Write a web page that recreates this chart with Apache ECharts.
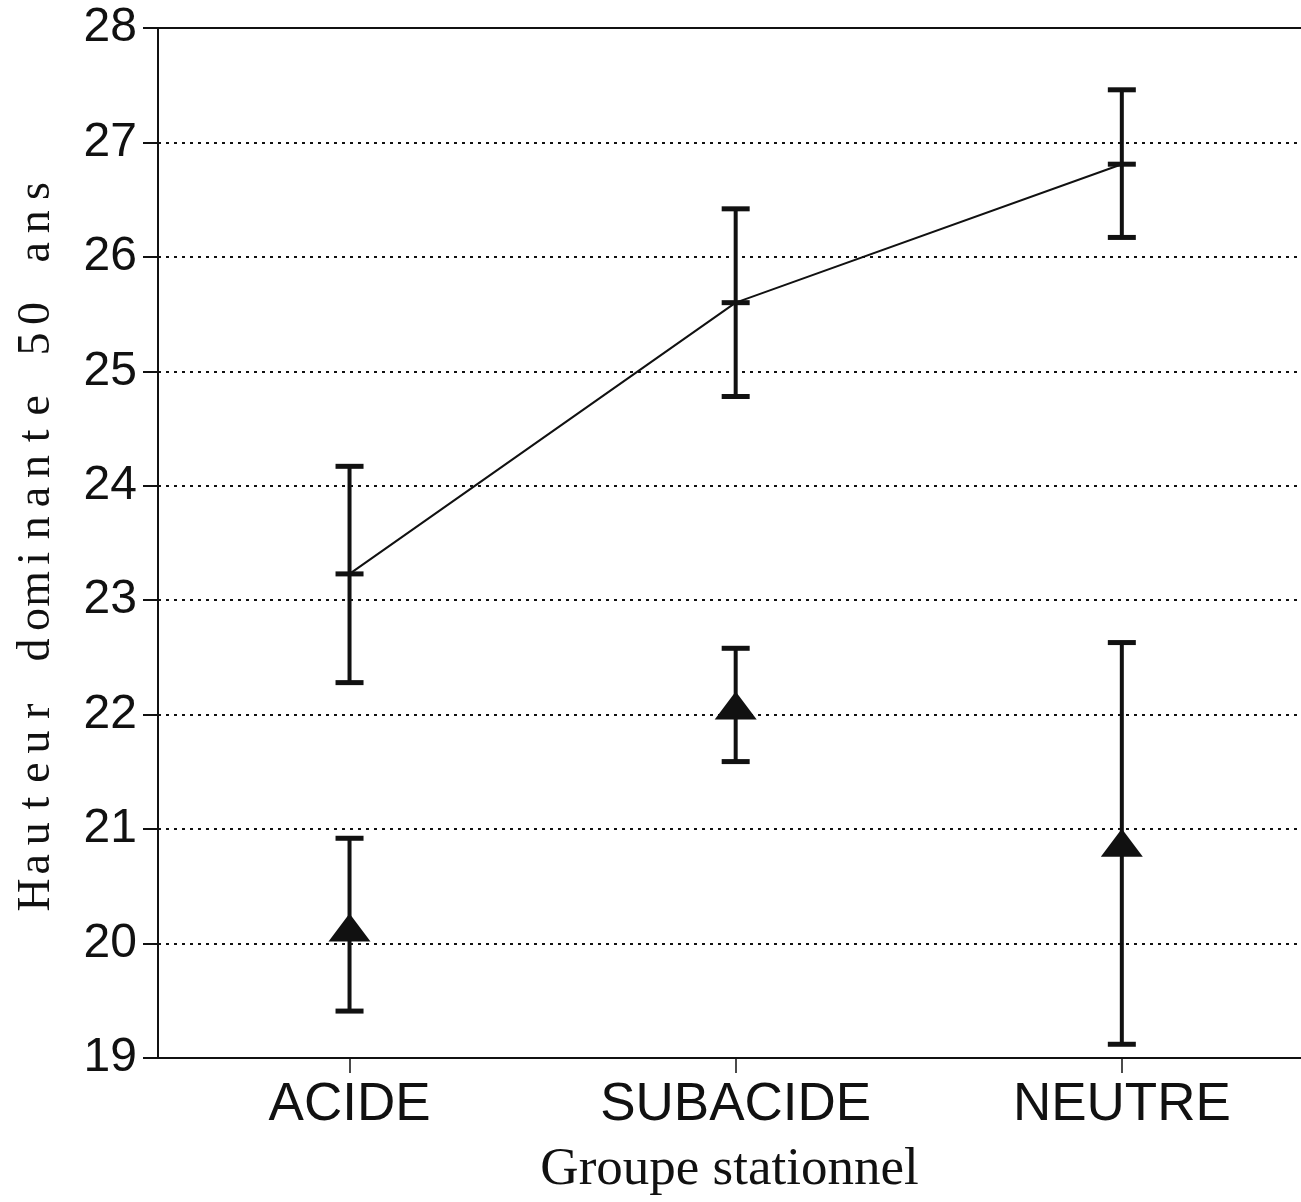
<!DOCTYPE html>
<html>
<head>
<meta charset="utf-8">
<script src="https://cdn.jsdelivr.net/npm/echarts@6/dist/echarts.min.js"></script>
<style>
  html, body { margin: 0; padding: 0; background: #ffffff; width: 1301px; height: 1202px; overflow: hidden; }
  #chart { width: 1301px; height: 1202px; display: block; }
</style>
</head>
<body>
<div id="chart"></div>
<script>
// ---- Data ----
const categories = ['ACIDE', 'SUBACIDE', 'NEUTRE'];

// Upper group (line + horizontal mean marks)
const upperMean = [23.23, 25.60, 26.81];
const upperLow  = [22.28, 24.78, 26.17];
const upperHigh = [24.17, 26.42, 27.46];

// Lower group (triangle marks)
const lowerMean = [20.14, 22.08, 20.88];
const lowerLow  = [19.41, 21.59, 19.12];
const lowerHigh = [20.92, 22.58, 22.63];

const yTicks = [19, 20, 21, 22, 23, 24, 25, 26, 27, 28];

const xTitle = 'Groupe stationnel';
const yTitle = 'Hauteur dominante 50 ans';

// ---- Build series data ----
const catPos = categories.map((c, i) => i + 1);
const upperBars = catPos.map((x, i) => [x, upperLow[i], upperHigh[i], upperMean[i]]);
const lowerBars = catPos.map((x, i) => [x, lowerLow[i], lowerHigh[i]]);
const upperLine = catPos.map((x, i) => [x, upperMean[i]]);
const lowerPts  = catPos.map((x, i) => [x, lowerMean[i]]);

const INK = '#111111';
const X_MIN = 0.504, X_MAX = 3.464;

function errorBarItem(withMean) {
  return function (params, api) {
    const x = api.value(0);
    const pLo = api.coord([x, api.value(1)]);
    const pHi = api.coord([x, api.value(2)]);
    const hw = 14;
    const children = [
      { type: 'line', shape: { x1: pLo[0], y1: pLo[1], x2: pHi[0], y2: pHi[1] },
        style: { stroke: INK, lineWidth: 4 } },
      { type: 'line', shape: { x1: pLo[0] - hw, y1: pLo[1], x2: pLo[0] + hw, y2: pLo[1] },
        style: { stroke: INK, lineWidth: 5 } },
      { type: 'line', shape: { x1: pHi[0] - hw, y1: pHi[1], x2: pHi[0] + hw, y2: pHi[1] },
        style: { stroke: INK, lineWidth: 5 } }
    ];
    if (withMean) {
      const pM = api.coord([x, api.value(3)]);
      children.push({ type: 'line', shape: { x1: pM[0] - hw, y1: pM[1], x2: pM[0] + hw, y2: pM[1] },
        style: { stroke: INK, lineWidth: 5 } });
    }
    return { type: 'group', children: children };
  };
}

// Y title as evenly spaced characters (typewriter-like spacing)
const yTitleRich = yTitle.split('').map(ch => '{c|' + ch + '}').join('');

const chart = echarts.init(document.getElementById('chart'), null, { renderer: 'canvas', width: 1301, height: 1202 });

const option = {
  backgroundColor: '#ffffff',
  animation: false,
  grid: { left: 158, right: 0, top: 28, height: 1038, show: false },
  xAxis: [
    {
      type: 'value',
      min: X_MIN,
      max: X_MAX,
      name: xTitle,
      nameLocation: 'middle',
      nameGap: 86,
      nameTextStyle: { fontFamily: 'Liberation Serif', fontSize: 53, color: INK },
      axisLine: { show: true, onZero: false, lineStyle: { color: INK, width: 2 } },
      axisTick: { show: true, customValues: catPos, length: 15, lineStyle: { color: INK, width: 1.5 } },
      axisLabel: {
        customValues: catPos,
        formatter: v => categories[Math.round(v) - 1] || '',
        fontFamily: 'Liberation Sans', fontSize: 53, color: INK, margin: 21
      },
      splitLine: { show: false }
    },
    {
      type: 'value',
      position: 'top',
      min: X_MIN,
      max: X_MAX,
      axisLine: { show: true, onZero: false, lineStyle: { color: INK, width: 2 } },
      axisTick: { show: false },
      axisLabel: { show: false },
      splitLine: { show: false }
    }
  ],
  yAxis: {
    type: 'value',
    min: yTicks[0],
    max: yTicks[yTicks.length - 1],
    interval: 1,
    name: yTitleRich,
    nameLocation: 'middle',
    nameRotate: 90,
    nameGap: 98,
    nameTextStyle: {
      rich: {
        c: { fontFamily: 'Liberation Serif', fontSize: 46, color: INK, width: 30.6, align: 'center', lineHeight: 46 }
      }
    },
    axisLine: { show: true, lineStyle: { color: INK, width: 2 } },
    axisTick: { show: true, length: 15, lineStyle: { color: INK, width: 2 } },
    axisLabel: { fontFamily: 'Liberation Sans', fontSize: 48, color: INK, margin: 21 },
    splitLine: { show: true, lineStyle: { color: INK, width: 2, type: [3, 5] } }
  },
  series: [
    {
      name: 'upper-line',
      type: 'line',
      data: upperLine,
      symbol: 'none',
      lineStyle: { color: INK, width: 2 },
      z: 3
    },
    {
      name: 'upper-bars',
      type: 'custom',
      renderItem: errorBarItem(true),
      data: upperBars,
      encode: { x: 0, y: [1, 2, 3] },
      z: 4
    },
    {
      name: 'lower-bars',
      type: 'custom',
      renderItem: errorBarItem(false),
      data: lowerBars,
      encode: { x: 0, y: [1, 2] },
      z: 4
    },
    {
      name: 'lower-points',
      type: 'scatter',
      data: lowerPts,
      symbol: 'triangle',
      symbolSize: [42, 28],
      itemStyle: { color: INK, opacity: 1 },
      z: 5
    }
  ]
};

chart.setOption(option);
</script>
</body>
</html>
